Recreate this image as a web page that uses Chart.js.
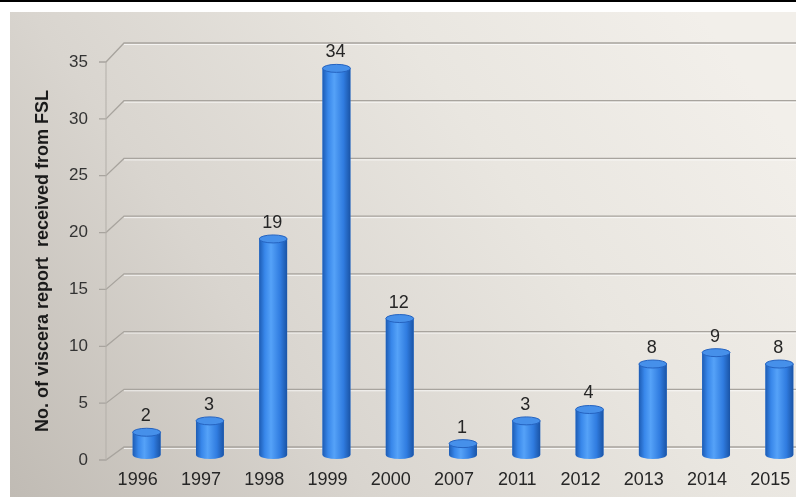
<!DOCTYPE html>
<html>
<head>
<meta charset="utf-8">
<script src="https://cdn.jsdelivr.net/npm/chart.js@4/dist/chart.umd.min.js"></script>
<style>
  html, body { margin: 0; padding: 0; background: #fff; overflow: hidden; width: 796px; height: 497px; }
  #wrap { position: absolute; left: 0; top: 0; width: 806px; height: 497px; }
  #topline { position: absolute; left: 0; top: 0; width: 796px; height: 2px; background: #000; z-index: 2; }
</style>
</head>
<body>
<div id="topline"></div>
<div id="wrap"><canvas id="chart"></canvas></div>
<script>
// ===== data =====
const years = ["1996", "1997", "1998", "1999", "2000", "2007", "2011", "2012", "2013", "2014", "2015"];
const reports = [2, 3, 19, 34, 12, 1, 3, 4, 8, 9, 8];
const yTicks = [0, 5, 10, 15, 20, 25, 30, 35];
const yTitle = "No. of viscera report  received from FSL";

const DX = 9, DY = -5; // depth shift of the bars
const FONT = "'Liberation Sans', Arial, sans-serif";

function cylinderGradient(ctx, x, width) {
  const g = ctx.createLinearGradient(x - width / 2, 0, x + width / 2, 0);
  g.addColorStop(0, "#1d5cb4");
  g.addColorStop(0.2, "#3887ea");
  g.addColorStop(0.42, "#55a2f8");
  g.addColorStop(0.75, "#307ce0");
  g.addColorStop(1, "#1a54a6");
  return g;
}

const backdrop = {
  id: "backdrop",
  beforeDraw(chart) {
    const ctx = chart.ctx;
    ctx.save();
    const g = ctx.createLinearGradient(10, 497, 700, 12);
    g.addColorStop(0, "#c0bbb4");
    g.addColorStop(0.35, "#d9d5cf");
    g.addColorStop(0.7, "#e9e6e0");
    g.addColorStop(1, "#f2efea");
    ctx.fillStyle = g;
    ctx.fillRect(10, 12, chart.width, chart.height);
    const y = chart.scales.y;
    const left = chart.chartArea.left;
    // side wall / back wall grid lines
    yTicks.forEach(v => {
      const yf = y.getPixelForValue(v);
      const yb = yf - 13 - 6 * v / 35;
      ctx.strokeStyle = "rgba(255,255,255,0.7)";
      ctx.lineWidth = 1;
      ctx.beginPath();
      ctx.moveTo(left + 18, yb + 1.5);
      ctx.lineTo(chart.width, yb + 1.5);
      ctx.stroke();
      ctx.strokeStyle = "#a8a49e";
      ctx.lineWidth = 1.3;
      ctx.beginPath();
      ctx.moveTo(left - 7, yf);
      ctx.lineTo(left, yf);
      ctx.lineTo(left + 18, yb);
      ctx.lineTo(chart.width, yb);
      ctx.stroke();
    });
    ctx.strokeStyle = "#b3afa9";
    ctx.lineWidth = 1;
    ctx.beginPath();
    ctx.moveTo(left, y.getPixelForValue(35));
    ctx.lineTo(left, y.getPixelForValue(0));
    ctx.stroke();
    ctx.restore();
  },
  beforeDatasetsDraw(chart) {
    chart.ctx.save();
    chart.ctx.translate(DX, DY);
  },
  afterDatasetsDraw(chart) {
    const ctx = chart.ctx;
    const meta = chart.getDatasetMeta(0);
    meta.data.forEach(el => {
      const { x, y, base, width } = el.getProps(["x", "y", "base", "width"], true);
      const rx = width / 2;
      const g = cylinderGradient(ctx, x, width);
      // shaded body + rounded bottom
      ctx.fillStyle = g;
      ctx.fillRect(x - rx, y, width, base - y);
      ctx.beginPath();
      ctx.ellipse(x, base, rx, 4, 0, 0, Math.PI);
      ctx.fill();
      // top cap
      ctx.fillStyle = "#4690ea";
      ctx.strokeStyle = "#2563c0";
      ctx.lineWidth = 1;
      ctx.beginPath();
      ctx.ellipse(x, y, rx, 4, 0, 0, Math.PI * 2);
      ctx.fill();
      ctx.stroke();
    });
    ctx.restore();
    // value labels
    ctx.save();
    ctx.font = "18px " + FONT;
    ctx.fillStyle = "#262626";
    ctx.textAlign = "center";
    ctx.textBaseline = "middle";
    meta.data.forEach((el, i) => {
      const { x, y } = el.getProps(["x", "y"], true);
      ctx.fillText(String(reports[i]), x + DX - 1, y + DY - 16);
    });
    ctx.restore();
  }
};

new Chart(document.getElementById("chart"), {
  type: "bar",
  data: {
    labels: years,
    datasets: [{
      data: reports,
      backgroundColor: "#3a85e6",
      borderWidth: 0,
      categoryPercentage: 1,
      barPercentage: 0.44
    }]
  },
  options: {
    responsive: true,
    maintainAspectRatio: false,
    animation: false,
    layout: { padding: { left: 10, top: 62, right: 4, bottom: 0 } },
    plugins: { legend: { display: false }, tooltip: { enabled: false } },
    scales: {
      x: {
        grid: { display: false },
        border: { display: false },
        ticks: { color: "#262626", padding: 1, maxRotation: 0, font: { family: FONT, size: 18 } },
        afterFit(s) { s.height = 37; }
      },
      y: {
        min: 0,
        max: 35,
        grid: { display: false },
        border: { display: false },
        afterBuildTicks(s) { s.ticks = yTicks.map(v => ({ value: v })); },
        ticks: { color: "#333", padding: 10, font: { family: FONT, size: 17 } },
        title: {
          display: true,
          text: yTitle,
          color: "#1a1a1a",
          padding: { top: 22, bottom: 0 },
          font: { family: FONT, size: 18, weight: "bold" }
        },
        afterFit(s) { s.width = 96; }
      }
    }
  },
  plugins: [backdrop]
});
</script>
</body>
</html>
